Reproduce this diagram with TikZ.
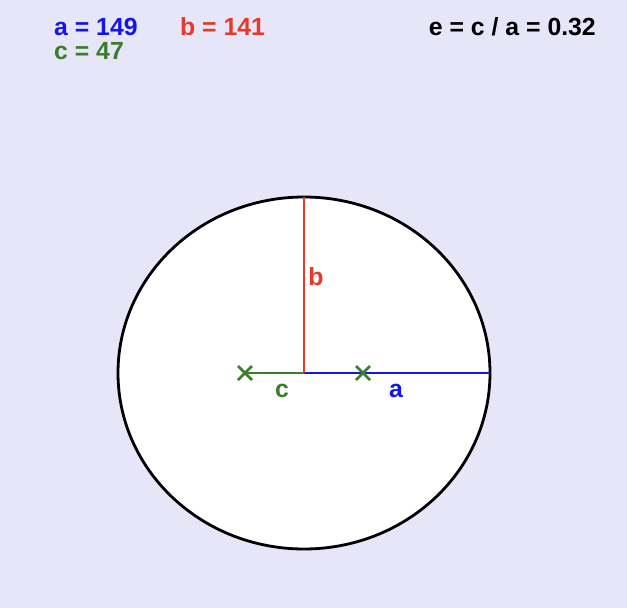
\documentclass[tikz,border=0pt]{standalone}
\usepackage{fontspec}
\setmainfont{Liberation Sans}
\definecolor{bgcol}{RGB}{230,230,248}
\definecolor{acol}{RGB}{20,20,240}
\definecolor{bcol}{RGB}{232,56,40}
\definecolor{ccol}{RGB}{58,125,42}
\tikzset{
  lbl/.style={font=\fontsize{24.8}{28}\selectfont\bfseries, inner sep=0pt},
  focus/.style={ccol, line width=2.6pt},
}
\begin{document}
\begin{tikzpicture}[x=1pt,y=-1pt]
    % Background
    \fill[bgcol] (0,0) rectangle (627,608);
    \useasboundingbox (0,0) rectangle (627,608);

    % Values
    \node[lbl, acol, anchor=west] (aval) at (54,27) {a = 149};
    \node[lbl, bcol, anchor=west] (bval) at (180,27) {b = 141};
    \node[lbl, ccol, anchor=west] (cval) at (54,51) {c = 47};
    \node[lbl, black, anchor=east] (eval) at (596,27) {e = c / a = 0.32};

    % Ellipse
    \coordinate (O) at (304,373);
    \fill[white] (O) ellipse [x radius=186, y radius=176];
    \draw[black, line width=2.8pt] (O) ellipse [x radius=186, y radius=176];

    % Semi-axes
    \coordinate (F1) at (245,373);
    \coordinate (F2) at (363,373);
    \coordinate (A) at (490,373);
    \coordinate (B) at (304,197);
    \draw[ccol, line width=1.3pt] (F1) -- (O);
    \draw[acol, line width=1.3pt] (O) -- (A);
    \draw[bcol, line width=1.3pt] (O) -- (B);

    % Foci
    \foreach \f in {F1,F2}
        \draw[focus] ([shift={(-7,-7)}]\f) -- ([shift={(7,7)}]\f)
                     ([shift={(-7,7)}]\f) -- ([shift={(7,-7)}]\f);

    % Axis labels
    \node[lbl, bcol] (blbl) at (316,277) {b};
    \node[lbl, ccol] (clbl) at (282,391) {c};
    \node[lbl, acol] (albl) at (396,391) {a};
\end{tikzpicture}
\end{document}
